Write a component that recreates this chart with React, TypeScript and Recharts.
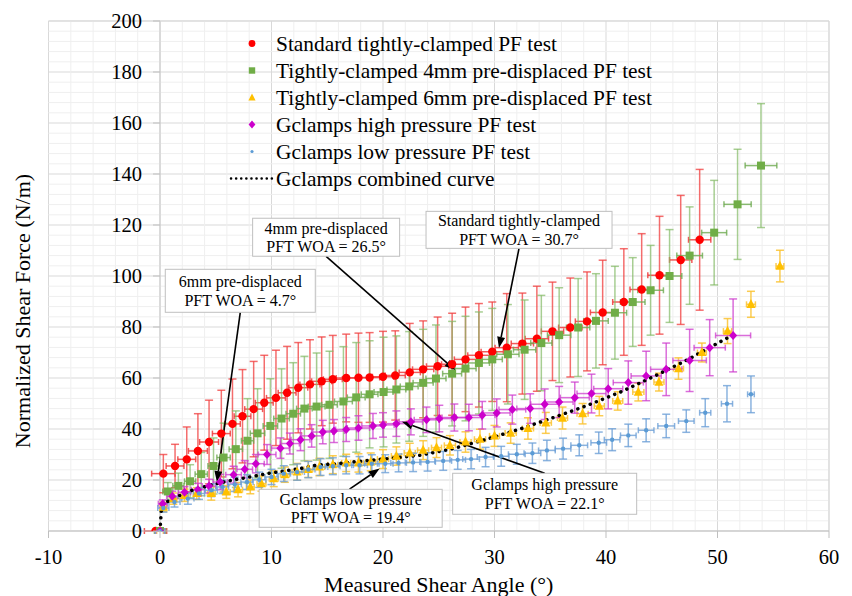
import React from 'react';
import {
  ComposedChart,
  Scatter,
  Line,
  XAxis,
  YAxis,
  CartesianGrid,
  ErrorBar,
  ReferenceLine,
  ReferenceDot,
} from 'recharts';

const W = 852;
const H = 596;
const MARGIN = { top: 21, right: 23, left: 47.5, bottom: 0 };
const Y_AXIS_W = 1;
const X_AXIS_H = 65;
const X_MIN = -10;
const X_MAX = 60;
const Y_MIN = 0;
const Y_MAX = 200;
const SERIF = '"Liberation Serif", "Times New Roman", serif';

const xTicks = [-10, 0, 10, 20, 30, 40, 50, 60];
const yTicks = [0, 20, 40, 60, 80, 100, 120, 140, 160, 180, 200];

// Standard tightly-clamped PF test
const stdX = [-0.4, 0.3, 1.35, 2.4, 3.4, 4.4, 5.5, 6.5, 7.4, 8.4, 9.35, 10.4, 11.4, 12.4, 13.45, 14.5, 15.5, 16.7, 17.8, 18.8, 20.0, 21.1, 22.4, 23.6, 24.9, 26.2, 27.4, 28.6, 29.8, 31.1, 32.5, 33.8, 35.2, 36.8, 38.3, 39.7, 41.6, 43.2, 44.8, 46.7, 48.4];
const stdY = [0, 22.5, 25.5, 28.1, 31.4, 34.9, 38.2, 42.0, 45.0, 47.8, 50.3, 52.2, 54.2, 56.2, 57.5, 58.7, 59.5, 60.0, 60.1, 60.2, 60.5, 61.0, 62.2, 63.4, 64.6, 65.4, 67.3, 68.9, 70.3, 71.9, 73.5, 75.4, 78.3, 79.8, 82.2, 85.7, 89.8, 94.7, 100.3, 106.3, 114.2];
const stdEy = [0, 7.5, 8.5, 12.7, 14.6, 16.4, 17.0, 17.6, 18.3, 18.7, 18.6, 18.7, 18.2, 17.7, 17.5, 17.4, 17.2, 17.2, 17.5, 17.6, 17.8, 17.5, 19.2, 19.0, 19.3, 20.0, 20.5, 20.3, 19.5, 21.2, 19.8, 20.6, 19.3, 19.4, 19.4, 20.5, 20.9, 21.9, 23.1, 25.3, 27.6];
const stdEx = [1.0, 1.05, 0.8, 0.8, 0.85, 0.85, 0.8, 0.7, 0.75, 0.8, 0.8, 0.85, 0.8, 0.85, 0.9, 0.9, 0.85, 0.9, 0.9, 0.9, 0.95, 0.9, 0.95, 0.95, 1.0, 0.95, 1.0, 1.0, 1.0, 1.05, 1.0, 1.05, 1.0, 1.05, 1.05, 1.1, 1.0, 1.05, 1.05, 1.0, 1.0];

// Tightly-clamped 4mm pre-displaced PF test
const pd4X = [0, 0.7, 1.65, 2.7, 3.7, 4.8, 5.7, 6.8, 7.85, 8.75, 9.9, 10.9, 11.95, 12.95, 14.05, 15.2, 16.45, 17.6, 18.8, 20.05, 21.2, 22.35, 23.6, 24.75, 26.2, 27.4, 28.6, 29.8, 31.2, 32.7, 34.2, 35.8, 37.5, 39.1, 40.8, 42.4, 44.0, 45.7, 47.5, 49.7, 51.8, 53.9];
const pd4Y = [0, 15.5, 17.7, 19.5, 22.3, 25.5, 28.8, 32.1, 35.4, 38.3, 41.2, 44.1, 46.0, 48.0, 48.8, 49.5, 50.8, 52.4, 53.6, 54.5, 55.5, 56.7, 58.1, 59.8, 61.7, 63.7, 65.9, 67.3, 69.3, 71.1, 73.7, 76.8, 79.8, 82.4, 85.6, 89.8, 94.4, 100.0, 108.0, 117.0, 128.1, 143.3];
const pd4Ey = [0, 3.5, 5, 6.5, 8.5, 11, 13.5, 15, 16.5, 17.5, 18.5, 19.5, 20, 20.5, 21, 21, 21.5, 21.5, 21, 21.5, 21, 21.5, 21, 21, 20.5, 20.5, 20, 20, 19.5, 19.5, 18.7, 18.6, 19.2, 18.5, 18.2, 17.4, 17.6, 18.2, 19.1, 20.5, 21.6, 24.3];
const pd4Ex = [0.5, 0.45, 0.5, 0.5, 0.55, 0.5, 0.6, 0.6, 0.55, 0.65, 0.65, 0.7, 0.65, 0.7, 0.75, 0.7, 0.8, 0.8, 0.75, 0.85, 0.85, 0.8, 0.9, 0.9, 0.85, 0.95, 0.95, 0.9, 1.0, 1.0, 0.95, 1.05, 1.05, 1.1, 1.05, 1.1, 1.15, 1.1, 1.15, 1.12, 1.22, 1.42];

// Tightly-clamped 6mm pre-displaced PF test
const pd6X = [0, 0.3, 1.2, 2.2, 3.3, 4.6, 5.95, 7.0, 8.1, 9.1, 10.2, 11.2, 12.3, 13.3, 14.3, 15.5, 16.7, 17.8, 18.9, 20.0, 21.2, 22.4, 23.6, 24.8, 26.0, 27.4, 28.7, 30.0, 31.45, 33.0, 34.6, 36.1, 37.9, 39.4, 41.05, 42.9, 44.75, 46.5, 48.6, 50.9, 53.0, 55.6];
const pd6Y = [0, 9.4, 12.7, 14.0, 14.7, 14.7, 15.3, 16.2, 17.3, 18.6, 20.5, 22.1, 23.2, 24.2, 25.1, 26.0, 26.7, 26.7, 27.1, 28.2, 29.4, 30.6, 31.7, 32.7, 33.6, 34.9, 36.0, 37.3, 38.4, 40.2, 42.4, 44.3, 46.0, 49.0, 51.0, 54.5, 58.4, 63.7, 70.0, 78.4, 88.9, 103.9];
const pd6Ey = [0, 1.8, 2.2, 2.4, 2.3, 2.6, 2.5, 2.8, 2.7, 3.0, 3.1, 3.0, 3.3, 3.2, 3.4, 3.5, 3.4, 3.6, 3.5, 3.7, 3.6, 3.8, 3.7, 3.9, 3.8, 4.0, 3.9, 4.1, 4.0, 4.2, 4.1, 4.3, 4.0, 3.8, 3.6, 3.5, 3.5, 4.2, 3.7, 4.9, 5.1, 6.2];
const pd6Ex = [0.3, 0.3, 0.3, 0.35, 0.3, 0.35, 0.35, 0.4, 0.35, 0.4, 0.4, 0.4, 0.45, 0.4, 0.45, 0.45, 0.4, 0.45, 0.45, 0.5, 0.45, 0.5, 0.5, 0.45, 0.5, 0.5, 0.5, 0.45, 0.5, 0.5, 0.5, 0.45, 0.5, 0.45, 0.45, 0.5, 0.45, 0.45, 0.4, 0.37, 0.4, 0.35];

// Gclamps high pressure PF test
const highX = [0, 0.25, 1.1, 2.2, 3.4, 4.4, 5.4, 6.6, 7.6, 8.6, 9.6, 10.8, 11.65, 12.6, 13.6, 14.6, 15.6, 16.7, 17.8, 19.1, 20.0, 21.2, 22.5, 23.9, 25.05, 26.4, 27.7, 28.9, 30.2, 31.6, 33.2, 34.5, 35.8, 37.2, 38.7, 40.2, 42.0, 43.6, 45.4, 47.5, 49.3, 51.4];
const highY = [0, 10.7, 13.6, 15.2, 16.2, 17.6, 19.2, 22.1, 24.2, 26.4, 30.0, 32.5, 34.3, 35.8, 37.3, 38.8, 39.2, 39.8, 40.4, 41.2, 41.6, 42.1, 42.8, 43.6, 44.1, 44.5, 44.5, 45.4, 46.3, 47.6, 48.0, 49.7, 50.6, 52.3, 53.9, 55.8, 58.2, 60.8, 63.4, 66.9, 71.9, 76.7];
const highEy = [0, 1.5, 2.0, 2.2, 2.5, 2.7, 3.0, 3.3, 3.4, 3.6, 3.9, 4.0, 4.1, 4.3, 4.4, 4.6, 4.5, 4.7, 4.8, 4.9, 4.8, 5.0, 5.1, 5.0, 5.2, 5.3, 5.2, 5.4, 5.5, 5.7, 5.8, 6.0, 6.1, 6.1, 7.6, 7.9, 8.5, 9.7, 10.3, 12.2, 11.0, 14.3];
const highEx = [0.4, 0.4, 0.5, 0.55, 0.6, 0.6, 0.65, 0.7, 0.7, 0.75, 0.8, 0.8, 0.85, 0.85, 0.9, 0.9, 0.95, 0.95, 1.0, 1.0, 1.0, 1.05, 1.05, 1.1, 1.1, 1.1, 1.15, 1.15, 1.2, 1.2, 1.2, 1.25, 1.25, 1.3, 1.3, 1.3, 1.35, 1.35, 1.4, 1.5, 1.4, 1.57];

// Gclamps low pressure PF test
const lowX = [0, 0.3, 1.3, 2.5, 3.5, 4.6, 5.6, 6.7, 7.8, 8.9, 10.0, 11.1, 12.3, 13.3, 14.4, 15.5, 16.7, 17.9, 19.0, 20.2, 21.4, 22.7, 24.0, 25.4, 26.7, 27.9, 29.2, 30.6, 32.0, 33.4, 34.7, 36.15, 37.6, 39.35, 40.55, 42.0, 43.6, 45.4, 47.2, 48.9, 50.85, 53.0];
const lowY = [0, 9.0, 11.4, 12.7, 14.7, 16.0, 17.3, 18.3, 19.2, 20.1, 21.2, 22.5, 23.1, 24.1, 25.1, 25.4, 25.8, 25.8, 26.4, 26.4, 26.7, 26.9, 27.1, 27.5, 27.9, 28.2, 29.0, 29.3, 30.1, 30.5, 31.6, 32.3, 33.6, 34.6, 35.8, 37.5, 39.5, 41.2, 43.1, 46.4, 49.9, 53.6];
const lowEy = [0, 1.6, 2.0, 2.2, 2.3, 2.5, 2.6, 2.8, 2.9, 3.0, 3.0, 3.1, 3.2, 3.2, 3.3, 3.3, 3.4, 3.4, 3.5, 3.5, 3.5, 3.6, 3.6, 3.7, 3.7, 3.8, 3.8, 3.9, 3.9, 4.0, 4.0, 4.1, 4.1, 4.2, 4.3, 4.4, 4.5, 4.6, 4.4, 5.5, 7.1, 7.2];
const lowEx = [0.4, 0.5, 0.5, 0.55, 0.5, 0.55, 0.55, 0.6, 0.55, 0.6, 0.6, 0.6, 0.65, 0.6, 0.65, 0.65, 0.65, 0.7, 0.65, 0.7, 0.7, 0.7, 0.7, 0.75, 0.7, 0.75, 0.75, 0.7, 0.75, 0.75, 0.75, 0.7, 0.75, 0.7, 0.7, 0.7, 0.7, 0.75, 0.7, 0.5, 0.5, 0.3];

// Gclamps combined curve
const curveX = [0, 0.15, 0.6, 1.8, 3.0, 4.5, 5.7, 6.9, 8.1, 9.6, 11.1, 12.6, 14.0, 15.9, 17.3, 18.8, 20.0, 23.3, 26.3, 29.3, 32.3, 35.3, 38.3, 41.3, 44.2, 47.2, 50.2, 51.4];
const curveY = [0, 10.0, 11.4, 14.0, 16.2, 17.9, 19.2, 20.3, 21.2, 22.5, 23.5, 24.5, 25.8, 26.4, 27.1, 27.7, 28.2, 29.7, 32.3, 36.0, 40.0, 44.5, 49.2, 54.5, 60.4, 66.9, 74.1, 76.9];

const zip = (xs: number[], ys: number[], ey: number[], ex: number[]) =>
  xs.map((x, i) => ({ x, y: ys[i], ey: ey[i], ex: ex[i] }));

const stdData = zip(stdX, stdY, stdEy, stdEx);
const pd4Data = zip(pd4X, pd4Y, pd4Ey, pd4Ex);
const pd6Data = zip(pd6X, pd6Y, pd6Ey, pd6Ex);
const highData = zip(highX, highY, highEy, highEx);
const lowData = zip(lowX, lowY, lowEy, lowEx);
const curveData = curveX.map((x, i) => ({ x, y: curveY[i] }));

// callout boxes (data coordinates) and the points their arrows hit
const notes = [
  { lines: ['4mm pre-displaced', 'PFT WOA = 26.5°'], x: 14.9, y: 115.2, w: 147, h: 38, from: [14.9, 107.7], to: [26.5, 63.0] },
  { lines: ['Standard tightly-clamped', 'PFT WOA = 30.7°'], x: 32.2, y: 118.1, w: 186, h: 37, from: [32.2, 110.8], to: [30.4, 71.8] },
  { lines: ['6mm pre-displaced', 'PFT WOA = 4.7°'], x: 7.2, y: 94.2, w: 150, h: 43, from: [7.2, 85.7], to: [5.1, 19.2] },
  { lines: ['Gclamps low pressure', 'PFT WOA = 19.4°'], x: 17.1, y: 8.9, w: 183, h: 38, from: [17.0, 16.4], to: [19.7, 24.5] },
  { lines: ['Gclamps high pressure', 'PFT WOA = 22.1°'], x: 34.5, y: 14.6, w: 184, h: 41, from: [34.5, 22.6], to: [21.7, 42.8] },
];

const RED = '#ff0000';
const GREEN = '#70ad47';
const YELLOW = '#ffc000';
const MAGENTA = '#cc00cc';
const BLUE = '#5b9bd5';

const minorX: number[] = [];
for (let v = X_MIN; v <= X_MAX; v += 2) if (v % 10 !== 0) minorX.push(v);
const minorY: number[] = [];
for (let v = Y_MIN; v <= Y_MAX; v += 4) if (v % 20 !== 0) minorY.push(v);

const plotLeft = MARGIN.left + Y_AXIS_W;
const plotW = W - plotLeft - MARGIN.right;
const zeroX = plotLeft + ((0 - X_MIN) / (X_MAX - X_MIN)) * plotW;

const YTick = (props: any) => {
  const { y, payload } = props;
  return (
    <g>
      <line x1={zeroX - 7} x2={zeroX} y1={y} y2={y} stroke="#bfbfbf" />
      <text x={zeroX - 18} y={y} dy="0.35em" textAnchor="end" fontSize={20.5} fontFamily={SERIF} fill="#000">
        {payload.value}
      </text>
    </g>
  );
};

const dotShape = (r: number, color: string) => (p: any) => <circle cx={p.cx} cy={p.cy} r={r} fill={color} />;
const squareShape = (s: number, color: string) => (p: any) => (
  <rect x={p.cx - s / 2} y={p.cy - s / 2} width={s} height={s} fill={color} />
);
const triShape = (s: number, color: string) => (p: any) => (
  <polygon points={`${p.cx},${p.cy - s * 0.6} ${p.cx - s / 2},${p.cy + s * 0.4} ${p.cx + s / 2},${p.cy + s * 0.4}`} fill={color} />
);
const diamondShape = (s: number, color: string) => (p: any) => (
  <polygon points={`${p.cx},${p.cy - s / 2} ${p.cx + s * 0.45},${p.cy} ${p.cx},${p.cy + s / 2} ${p.cx - s * 0.45},${p.cy}`} fill={color} />
);

const Arrow = (p: any) => {
  const { x1, y1, x2, y2 } = p;
  const ang = Math.atan2(y2 - y1, x2 - x1);
  const len = 11;
  const half = 4;
  const bx = x2 - len * Math.cos(ang);
  const by = y2 - len * Math.sin(ang);
  const nx = -Math.sin(ang) * half;
  const ny = Math.cos(ang) * half;
  return (
    <g>
      <line x1={x1} y1={y1} x2={bx} y2={by} stroke="#000" strokeWidth={1.6} />
      <polygon points={`${x2},${y2} ${bx + nx},${by + ny} ${bx - nx},${by - ny}`} fill="#000" />
    </g>
  );
};

const noteShape = (w: number, h: number, lines: string[]) => (p: any) => (
  <g>
    <rect x={p.cx - w / 2} y={p.cy - h / 2} width={w} height={h} fill="#fff" stroke="#bfbfbf" />
    <text x={p.cx} y={p.cy - 9} textAnchor="middle" dominantBaseline="central" fontSize={16} fontFamily={SERIF} fill="#000">
      {lines[0]}
    </text>
    <text x={p.cx} y={p.cy + 9.5} textAnchor="middle" dominantBaseline="central" fontSize={16} fontFamily={SERIF} fill="#000">
      {lines[1]}
    </text>
  </g>
);

const legendItems = [
  { label: 'Standard tightly-clamped PF test', kind: 'circle', color: RED },
  { label: 'Tightly-clamped 4mm pre-displaced PF test', kind: 'square', color: GREEN },
  { label: 'Tightly-clamped 6mm pre-displaced PF test', kind: 'triangle', color: YELLOW },
  { label: 'Gclamps high pressure PF test', kind: 'diamond', color: MAGENTA },
  { label: 'Gclamps low pressure PF test', kind: 'dot', color: BLUE },
  { label: 'Gclamps combined curve', kind: 'line', color: '#000' },
];

const LegendIcon = ({ kind, color, cx, cy }: any) => {
  if (kind === 'circle') return <circle cx={cx} cy={cy} r={3.4} fill={color} />;
  if (kind === 'square') return <rect x={cx - 3.2} y={cy - 3.2} width={6.4} height={6.4} fill={color} />;
  if (kind === 'triangle')
    return <polygon points={`${cx},${cy - 4} ${cx - 3.6},${cy + 3} ${cx + 3.6},${cy + 3}`} fill={color} />;
  if (kind === 'diamond')
    return <polygon points={`${cx},${cy - 4} ${cx + 3.4},${cy} ${cx},${cy + 4} ${cx - 3.4},${cy}`} fill={color} />;
  if (kind === 'dot') return <circle cx={cx} cy={cy} r={1.6} fill={color} />;
  return (
    <line x1={cx - 21} x2={cx + 21} y1={cy} y2={cy} stroke={color} strokeWidth={2.5} strokeDasharray="0.1 5" strokeLinecap="round" />
  );
};

const Overlay = () => (
  <svg width={W} height={H} style={{ position: 'absolute', left: 0, top: 0, pointerEvents: 'none' }}>
    <text
      x={22}
      y={311}
      transform="rotate(-90 22 311)"
      textAnchor="middle"
      dominantBaseline="central"
      fontSize={22}
      fontFamily={SERIF}
      fill="#000"
    >
      Normalized Shear Force (N/m)
    </text>
    {legendItems.map((it, i) => {
      const cy = 43.5 + i * 27;
      return (
        <g key={it.label}>
          <LegendIcon kind={it.kind} color={it.color} cx={252} cy={cy} />
          <text x={276} y={cy} dominantBaseline="central" fontSize={21.4} fontFamily={SERIF} fill="#000">
            {it.label}
          </text>
        </g>
      );
    })}
  </svg>
);

const errY = (color: string) => (
  <ErrorBar dataKey="ey" direction="y" stroke={color} strokeWidth={1.5} width={4} isAnimationActive={false} />
);
const errX = (color: string) => (
  <ErrorBar dataKey="ex" direction="x" stroke={color} strokeWidth={1.5} width={3} isAnimationActive={false} />
);

export default function App() {
  return (
    <div style={{ position: 'absolute', left: 0, top: 0, width: W, height: H, background: '#fff' }}>
      <ComposedChart width={W} height={H} margin={MARGIN}>
        {minorX.map((v) => (
          <ReferenceLine key={`mx${v}`} x={v} stroke="#efefef" strokeWidth={1} />
        ))}
        {minorY.map((v) => (
          <ReferenceLine key={`my${v}`} y={v} stroke="#efefef" strokeWidth={1} />
        ))}
        <CartesianGrid stroke="#d9d9d9" />
        <ReferenceLine x={0} stroke="#c8c8c8" />
        <ReferenceLine x={X_MAX} stroke="#d9d9d9" />
        <ReferenceLine y={Y_MAX} stroke="#d9d9d9" />
        <XAxis
          dataKey="x"
          type="number"
          domain={[X_MIN, X_MAX]}
          ticks={xTicks}
          allowDataOverflow
          height={X_AXIS_H}
          interval={0}
          stroke="#bfbfbf"
          tickSize={7}
          tickMargin={11.5}
          tick={{ fill: '#000', fontSize: 20.5, fontFamily: SERIF }}
          label={{
            value: 'Measured Shear Angle (°)',
            position: 'insideBottom',
            offset: 4,
            style: { fill: '#000', fontSize: 22, fontFamily: SERIF },
          }}
        />
        <YAxis
          dataKey="y"
          type="number"
          domain={[Y_MIN, Y_MAX]}
          ticks={yTicks}
          allowDataOverflow
          width={Y_AXIS_W}
          interval={0}
          axisLine={false}
          tickLine={false}
          tick={<YTick />}
        />
        <Scatter data={stdData} dataKey="y" shape={dotShape(4.2, RED)} isAnimationActive={false}>
          {errY('rgba(240,60,60,0.75)')}
          {errX('rgba(240,60,60,0.85)')}
        </Scatter>
        <Scatter data={pd4Data} dataKey="y" shape={squareShape(8, GREEN)} isAnimationActive={false}>
          {errY('rgba(130,185,100,0.7)')}
          {errX('rgba(110,170,80,0.8)')}
        </Scatter>
        <Scatter data={pd6Data} dataKey="y" shape={triShape(9, YELLOW)} isAnimationActive={false}>
          {errY('rgba(250,195,50,0.85)')}
          {errX('rgba(250,195,50,0.85)')}
        </Scatter>
        <Scatter data={highData} dataKey="y" shape={diamondShape(9, MAGENTA)} isAnimationActive={false}>
          {errY('rgba(205,60,205,0.75)')}
          {errX('rgba(205,60,205,0.75)')}
        </Scatter>
        <Scatter data={lowData} dataKey="y" shape={dotShape(2.2, BLUE)} isAnimationActive={false}>
          {errY('rgba(110,160,215,0.8)')}
          {errX('rgba(110,160,215,0.8)')}
        </Scatter>
        <Line
          data={curveData}
          dataKey="y"
          type="linear"
          stroke="#000"
          strokeWidth={3.5}
          strokeDasharray="0.1 6.5"
          strokeLinecap="round"
          dot={false}
          activeDot={false}
          isAnimationActive={false}
        />
        {notes.map((n) => (
          <ReferenceLine
            key={`a${n.lines[0]}`}
            segment={[
              { x: n.from[0], y: n.from[1] },
              { x: n.to[0], y: n.to[1] },
            ]}
            ifOverflow="visible"
            shape={Arrow}
          />
        ))}
        {notes.map((n) => (
          <ReferenceDot
            key={`b${n.lines[0]}`}
            x={n.x}
            y={n.y}
            ifOverflow="visible"
            shape={noteShape(n.w, n.h, n.lines)}
          />
        ))}
      </ComposedChart>
      <Overlay />
    </div>
  );
}
